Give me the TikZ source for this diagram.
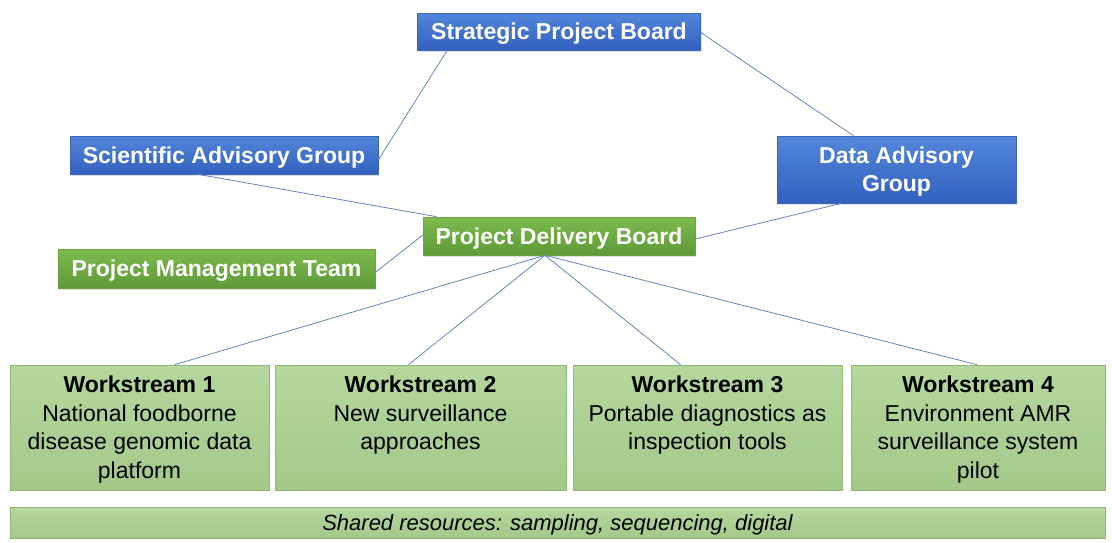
\documentclass[tikz,border=0pt]{standalone}
\usepackage{fontspec}
\setmainfont{Liberation Sans}
\usetikzlibrary{calc,shadows}
\definecolor{bluetop}{HTML}{5386DA}
\definecolor{bluebot}{HTML}{3261BE}
\definecolor{blueedge}{HTML}{3A66B8}
\definecolor{greentop}{HTML}{7DBB4F}
\definecolor{greenbot}{HTML}{5E9A37}
\definecolor{greenedge}{HTML}{6AA442}
\definecolor{lgtop}{HTML}{B5D79E}
\definecolor{lgbot}{HTML}{A3C98A}
\definecolor{lgedge}{HTML}{8DB873}
\definecolor{linkc}{HTML}{6584C2}
\begin{document}
\begin{tikzpicture}[x=1pt,y=-1pt,
  bluebox/.style={rectangle,top color=bluetop,bottom color=bluebot,draw=blueedge,line width=0.6pt,
    text=white,font=\fontsize{23}{28}\selectfont\bfseries,inner sep=0pt,align=center,text depth=0pt,
    drop shadow={shadow xshift=1pt,shadow yshift=-1.5pt,opacity=0.25}},
  greenbox/.style={rectangle,top color=greentop,bottom color=greenbot,draw=greenedge,line width=0.6pt,
    text=white,font=\fontsize{23}{28}\selectfont\bfseries,inner sep=0pt,align=center,text depth=0pt,
    drop shadow={shadow xshift=1pt,shadow yshift=-1.5pt,opacity=0.25}},
  wsbox/.style={rectangle,top color=lgtop,bottom color=lgbot,draw=lgedge,line width=0.7pt,
    text=black,inner sep=0pt,minimum height=125pt},
  link/.style={draw=linkc,line width=0.8pt}
]
\useasboundingbox (0,0) rectangle (1112,542);

% top level
\node[bluebox,minimum width=283pt,minimum height=37pt] (spb) at (559,31.5) {Strategic Project Board};
\node[bluebox,minimum width=308pt,minimum height=38pt] (sag) at (224,155) {Scientific Advisory Group};
\node[bluebox,minimum width=239pt,minimum height=67pt] (dag) at (896.5,169.5) {Data Advisory\\Group};
\node[greenbox,minimum width=272pt,minimum height=38pt] (pdb) at (559,236) {Project Delivery Board};
\node[greenbox,minimum width=317pt,minimum height=39pt] (pmt) at (216.5,268.5) {Project Management Team};

% workstreams
\newcommand{\wstext}[3]{\parbox[c][121pt][t]{#1pt}{\centering\fontsize{23}{28.5}\selectfont\vspace*{9pt}\textbf{#2}\\#3}}
\node[wsbox,minimum width=259pt] (ws1) at (139.5,427.5) {\wstext{255}{Workstream 1}{National foodborne\\disease genomic data\\platform}};
\node[wsbox,minimum width=291pt] (ws2) at (420.5,427.5) {\wstext{285}{Workstream 2}{New surveillance\\approaches}};
\node[wsbox,minimum width=269pt] (ws3) at (707.5,427.5) {\wstext{265}{Workstream 3}{Portable diagnostics as\\inspection tools}};
\node[wsbox,minimum width=254pt] (ws4) at (978,427.5) {\wstext{250}{Workstream 4}{Environment AMR\\surveillance system\\pilot}};

\node[wsbox,minimum width=1095pt,minimum height=31pt,text depth=0pt,font=\fontsize{22}{26}\selectfont\itshape] (shared) at (557.5,522.5) {Shared resources: sampling, sequencing, digital};

% connectors
\draw[link] ([xshift=30pt]spb.south west) -- ([yshift=-5pt]sag.east);
\draw[link] ([yshift=-1pt]spb.east) -- ([xshift=-43pt]dag.north);
\draw[link] ([xshift=-26pt]sag.south) -- ([xshift=14pt]pdb.north west);
\draw[link] ([yshift=-4pt]pmt.east) -- ([yshift=1pt]pdb.west);
\draw[link] ([xshift=-55pt]dag.south) -- ([yshift=-3pt]pdb.east);
\draw[link] ([xshift=-14pt]pdb.south) -- ([xshift=35pt]ws1.north);
\draw[link] ([xshift=-14pt]pdb.south) -- ([xshift=-12pt]ws2.north);
\draw[link] ([xshift=-14pt]pdb.south) -- ([xshift=-27pt]ws3.north);
\draw[link] ([xshift=-14pt]pdb.south) -- ([xshift=-1pt]ws4.north);
\end{tikzpicture}
\end{document}
